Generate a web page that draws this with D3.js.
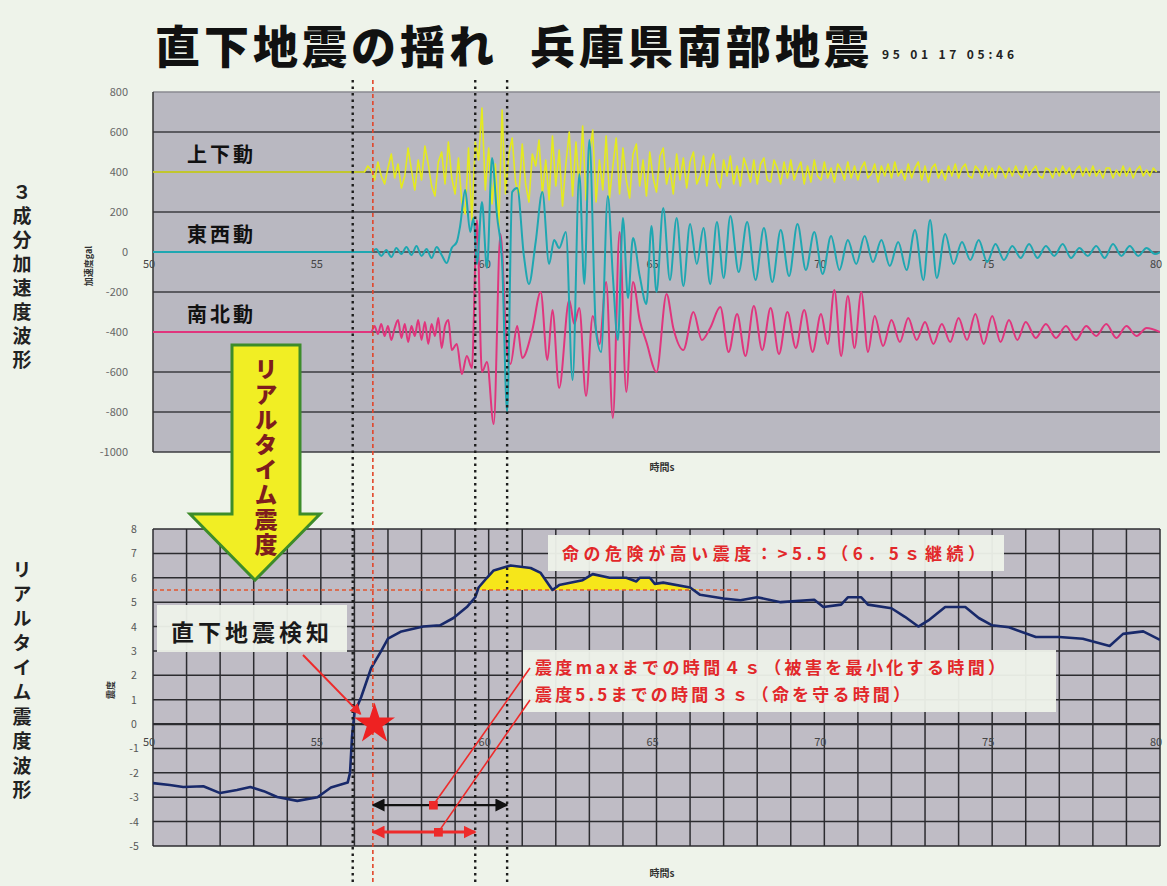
<!DOCTYPE html>
<html><head><meta charset="utf-8">
<script src="https://cdn.jsdelivr.net/npm/d3@7"></script>
<style>
html,body{margin:0;padding:0;background:#eef3ea;}
svg{display:block;}
text{font-family:"Noto Sans CJK JP","Noto Sans",sans-serif;}
</style></head><body>
<svg id="c" width="1167" height="886"></svg>
<script>
// ---------------- data ----------------
const titleText = "直下地震の揺れ";
const titleText2 = "兵庫県南部地震";
const stampText = "95 01 17 05:46";
const timeDomain = [50, 80];
const timeTicks = [50, 55, 60, 65, 70, 75, 80];
const accelTicks = [800, 600, 400, 200, 0, -200, -400, -600, -800, -1000];
const intensityTicks = [8, 7, 6, 5, 4, 3, 2, 1, 0, -1, -2, -3, -4, -5];
const componentNames = ["上下動", "東西動", "南北動"];
const componentOffsets = [400, 0, -400];

// 上下動 (vertical), gal relative to its 400 offset, sampled every 0.1 s from 56.3 s
const verticalStart = 56.3, verticalStep = 0.1;
const verticalValues = [
  0, 30, 10, -40, 50, -20, -60,
  20, 90, -30, 40, -80, -20, 120, 10, -90, 60,
  -40, 130, 40, -70, -120, 50, 100, -60, 150, -30,
  -110, 70, -150, -210, 120,
  -240, 150, 60, 320, -90,
  120, -160, 40, -280, 310,
  -110, 90, 170, -50, -120,
  140, -60, -150, 90, 30, 160, -110, 60, -140, 180,
  -70, 110, -170, 40, 200, -120, 150, -80, 230, -140,
  90, 210, -150, 60, -90, 180, -130, 30, 170, -110,
  120, -40, -130, 90, 140, -70, 60, -120, 100, -30,
  -100, 80, 120, -60, 20, -110, 90, -40, 70, -80,
  50, 100, -60, -20, 80, -70, 40, 90, -50, -80,
  60, -20, 80, -60, 30, -70, 70, 20, -50, 60,
  -60, 40, 70, -40, -50, 60, 20, -60, 50, -30,
  60, -40, 10, 50, -60, 30, -50, 60, -20, -40,
  50, -30, 20, -50, 40, 10, -40, 50, -30, 30,
  -40, 20, 50, -30, -10, 40, -50, 30, -20, 40,
  -30, 50, -20, 10, -40, 40, -30, 20, 50, -40,
  30, -50, 20, 40, -30, 10, -40, 30, -20, 40,
  -30, 20, 40, -20, -30, 30, 10, -30, 30, -20,
  20, -30, 30, 10, -30, 20, -20, 30, -10, -30,
  30, -20, 10, 30, -20, -30, 20, 10, -30, 20,
  -20, 30, -10, 20, -30, 10, 30, -20, 20, -20,
  30, -20, 10, -30, 20, 20, -30, 10, -20, 30,
  -20, 20, -30, 10, 30, -20, 10, -20, 20, 0
];

// 東西動 (east-west), turning points [time s, gal]
const eastWest = [
  [50,0],[56.5,0],[56.65,15],[56.8,-20],[56.95,10],[57.1,-25],[57.25,20],[57.4,-10],[57.55,25],[57.7,-15],
  [57.85,30],[58.0,-20],[58.15,15],[58.3,-30],[58.45,25],[58.6,-15],[58.75,-55],[58.9,20],[59.05,50],[59.15,130],
  [59.3,310],[59.45,100],[59.55,170],[59.65,-60],[59.8,250],[59.95,-80],[60.1,470],[60.25,180],[60.4,-50],[60.55,-800],
  [60.7,300],[60.85,320],[61.05,-20],[61.2,-160],[61.4,50],[61.6,300],[61.8,-60],[61.95,60],[62.1,20],[62.3,100],
  [62.5,-640],[62.7,390],[62.85,-160],[63.0,560],[63.2,-400],[63.35,-500],[63.55,280],[63.7,-120],[63.85,-440],[64.0,170],
  [64.15,-230],[64.3,70],[64.5,-120],[64.7,-260],[64.85,130],[65.0,-200],[65.2,220],[65.4,-140],[65.6,170],[65.8,-170],
  [66.0,140],[66.2,-60],[66.4,120],[66.6,-160],[66.8,150],[67.0,-130],[67.2,180],[67.45,-100],[67.7,150],[67.95,-140],
  [68.2,120],[68.45,-150],[68.7,110],[68.95,-120],[69.2,140],[69.45,-90],[69.7,100],[69.95,-110],[70.2,80],[70.45,-90],
  [70.7,60],[70.95,-60],[71.2,80],[71.45,-50],[71.7,60],[71.95,-70],[72.2,50],[72.45,-90],[72.7,110],[72.95,-140],
  [73.15,160],[73.35,-130],[73.6,90],[73.85,-60],[74.1,50],[74.35,-40],[74.6,60],[74.85,-50],[75.1,40],[75.35,-40],
  [75.6,30],[75.85,-30],[76.1,40],[76.35,-30],[76.6,30],[76.85,-20],[77.1,40],[77.35,-30],[77.6,20],[77.85,-20],
  [78.1,30],[78.35,-30],[78.6,40],[78.85,-20],[79.1,30],[79.35,-20],[79.6,20],[79.85,-10],[80,0]
];

// 南北動 (north-south), turning points [time s, gal] relative to -400 offset
const northSouth = [
  [50,0],[56.5,0],[56.6,30],[56.7,-10],[56.8,40],[56.9,-20],[57.0,30],[57.1,-40],[57.2,20],[57.3,60],
  [57.4,-30],[57.5,40],[57.6,-50],[57.7,30],[57.8,-20],[57.9,60],[58.0,-40],[58.1,50],[58.2,-60],[58.3,40],
  [58.4,-20],[58.5,70],[58.6,-80],[58.7,30],[58.8,60],[58.9,-90],[59.05,-60],[59.2,-210],[59.35,-120],[59.5,-180],
  [59.65,560],[59.8,-200],[59.95,-150],[60.15,-460],[60.35,490],[60.55,-100],[60.65,-160],[60.85,30],[61.0,-130],[61.3,10],
  [61.55,200],[61.75,-140],[61.9,110],[62.1,-280],[62.4,160],[62.55,40],[62.7,120],[62.9,-320],[63.1,80],[63.3,-60],
  [63.5,250],[63.7,-430],[63.9,500],[64.1,-300],[64.3,250],[64.5,60],[64.7,-50],[65.0,-200],[65.3,190],[65.5,20],
  [65.8,-90],[66.1,100],[66.35,-40],[66.6,20],[66.9,125],[67.15,-100],[67.4,90],[67.65,-120],[67.9,130],[68.15,-90],
  [68.4,120],[68.65,-110],[68.9,100],[69.15,-80],[69.4,110],[69.65,-100],[69.9,90],[70.1,-60],[70.3,210],[70.5,-120],
  [70.7,180],[70.9,-80],[71.1,200],[71.3,-100],[71.5,80],[71.75,-70],[72.0,60],[72.25,-50],[72.5,70],[72.75,-40],
  [73.0,50],[73.25,-60],[73.5,40],[73.75,-50],[74.0,70],[74.25,-40],[74.5,90],[74.75,-60],[75.0,80],[75.25,-50],
  [75.5,60],[75.75,-40],[76.0,50],[76.3,-30],[76.6,40],[76.9,-30],[77.2,30],[77.5,-40],[77.8,30],[78.1,-20],
  [78.4,40],[78.7,-30],[79.0,30],[79.3,-20],[79.6,20],[80,0]
];

// リアルタイム震度 [time s, intensity]
const intensity = [
  [50,-2.42],[50.5,-2.5],[50.9,-2.58],[51.5,-2.55],[52,-2.83],[52.5,-2.7],[52.9,-2.58],[53.3,-2.75],[53.7,-2.99],[54.3,-3.15],[54.9,-3.0],
  [55.3,-2.6],[55.8,-2.4],[55.87,-2.0],[55.93,-0.5],[56.0,0.45],[56.2,1.1],[56.5,2.3],[56.8,3.0],[57.0,3.5],[57.4,3.8],
  [58.05,4.0],[58.55,4.05],[58.95,4.35],[59.35,4.8],[59.6,5.2],[59.7,5.6],[59.95,6.0],[60.15,6.3],[60.65,6.5],[61.25,6.4],
  [61.55,6.2],[61.9,5.5],[62.1,5.7],[62.8,5.9],[63.1,6.15],[63.6,6.0],[64.1,6.0],[64.4,5.85],[64.5,6.0],[64.8,6.0],[64.95,5.75],
  [65.2,5.8],[66.0,5.6],[66.3,5.3],[67.0,5.15],[67.5,5.08],[68.0,5.2],[68.7,5.0],[69.7,5.1],[69.97,4.8],[70.5,4.9],
  [70.7,5.2],[71.1,5.2],[71.3,4.9],[72.0,4.75],[72.4,4.4],[72.8,4.0],[73.1,4.25],[73.6,4.8],[74.2,4.8],[74.6,4.35],
  [75.0,4.05],[75.5,3.97],[76.3,3.57],[77.0,3.57],[77.7,3.5],[78.5,3.2],[78.9,3.7],[79.5,3.8],[80,3.45]
];
const dangerLevel = 5.5;
const dangerLineEnd = 67.5;
const markerTimes = [55.95, 56.55, 59.6, 60.55];   // dotted, red, dotted, dotted
const detectPoint = [56.6, 0];
const maxSpan = [56.55, 60.55, -3.32];
const span55 = [56.55, 59.6, -4.43];

const leftLabel1 = "３成分加速度波形";
const leftLabel2 = "リアルタイム震度波形";
const arrowLabel = "リアルタイム震度";
const detectLabel = "直下地震検知";
const dangerLabel = "命の危険が高い震度：>5.5（6．5ｓ継続）";
const noteLines = ["震度maxまでの時間４ｓ（被害を最小化する時間）", "震度5.5までの時間３ｓ（命を守る時間）"];

// ---------------- drawing ----------------
const svg = d3.select("#c");
const x = d3.scaleLinear().domain(timeDomain).range([153, 1160]);
const yA = d3.scaleLinear().domain([-1000, 800]).range([452, 92]);
const yB = d3.scaleLinear().domain([-5, 8]).range([846, 529]);

const defs = svg.append("defs");
defs.append("clipPath").attr("id","clipA").append("rect")
  .attr("x",x(50)).attr("y",yA(800)).attr("width",x(80)-x(50)).attr("height",yA(-1000)-yA(800));
defs.append("clipPath").attr("id","clipB").append("rect")
  .attr("x",x(50)).attr("y",yB(8)).attr("width",x(80)-x(50)).attr("height",yB(-5)-yB(8));
function mk(id, color, size){
  const m = defs.append("marker").attr("id",id).attr("viewBox","0 0 10 10").attr("refX",9).attr("refY",5)
    .attr("markerWidth",size).attr("markerHeight",size).attr("orient","auto-start-reverse").attr("markerUnits","userSpaceOnUse");
  m.append("path").attr("d","M0,0 L10,5 L0,10 z").attr("fill",color);
}
mk("ahK","#111",13); mk("ahR","#ee2a2a",13); mk("ahR2","#ee2a2a",11);
const sq = defs.append("marker").attr("id","sqR").attr("viewBox","0 0 10 10").attr("refX",5).attr("refY",5)
  .attr("markerWidth",9).attr("markerHeight",9).attr("markerUnits","userSpaceOnUse");
sq.append("rect").attr("width",10).attr("height",10).attr("fill","#ee2a2a");

// title
svg.append("text").attr("x",155).attr("y",64).attr("font-size",45).attr("font-weight",900)
  .attr("letter-spacing",4).attr("fill","#111")
  .call(t=>{ t.append("tspan").text(titleText); t.append("tspan").attr("x",530).text(titleText2); });
svg.append("text").attr("x",882).attr("y",59).attr("font-size",12).attr("font-weight",700)
  .attr("font-family","Liberation Sans, Arial, sans-serif").attr("fill","#222")
  .attr("textLength",132).attr("lengthAdjust","spacing").text(stampText);

// left vertical labels
function vtext(label, xx, yy, size, spacing, color, weight){
  svg.append("text").attr("x",xx).attr("y",yy).attr("font-size",size).attr("font-weight",weight)
    .attr("fill",color).attr("letter-spacing",spacing)
    .style("writing-mode","vertical-rl").style("text-orientation","upright").text(label);
}
vtext(leftLabel1, 22, 182, 19, 5, "#222", 700);
vtext(leftLabel2, 22, 560, 19, 5.5, "#222", 700);

// ---- top chart ----
const gA = svg.append("g");
gA.append("rect").attr("x",x(50)).attr("y",yA(800)).attr("width",x(80)-x(50)).attr("height",yA(-1000)-yA(800))
  .attr("fill","#b9b8c1");
gA.selectAll("line.h").data(accelTicks).join("line").attr("class","h")
  .attr("x1",x(50)).attr("x2",x(80)).attr("y1",d=>yA(d)).attr("y2",d=>yA(d))
  .attr("stroke",d=>d===800?"#8a8a90":"#3c3c40").attr("stroke-width",1.4);
gA.append("line").attr("x1",x(50)).attr("x2",x(50)).attr("y1",yA(800)).attr("y2",yA(-1000))
  .attr("stroke","#333").attr("stroke-width",1.5);
gA.selectAll("text.yt").data(accelTicks).join("text").attr("class","yt")
  .attr("x",128).attr("y",d=>yA(d)+4).attr("text-anchor","end").attr("font-size",11)
  .attr("font-family","Liberation Sans, Arial, sans-serif").attr("fill","#666").text(d=>d);
gA.selectAll("text.xt").data(timeTicks).join("text").attr("class","xt")
  .attr("x",d=>x(d)-4).attr("y",yA(0)+16).attr("text-anchor","middle").attr("font-size",11)
  .attr("font-family","Liberation Sans, Arial, sans-serif").attr("fill","#444").text(d=>d);
svg.append("text").attr("x",662).attr("y",471).attr("text-anchor","middle").attr("font-size",10)
  .attr("font-weight",700).attr("fill","#333").text("時間s");
svg.append("text").attr("transform","translate(92,266) rotate(-90)").attr("text-anchor","middle")
  .attr("font-size",9).attr("font-weight",700).attr("fill","#333").text("加速度gal");

const vertical = [[50,0]].concat(verticalValues.map((v,i)=>[verticalStart+i*verticalStep, v]));
const series = [vertical, eastWest, northSouth];
const colors = ["#e4ea1e", "#1fa7b1", "#e0357d"];
const curves = [d3.curveLinear, d3.curveMonotoneX, d3.curveMonotoneX];
const widths = [1.6, 2, 2];
const traces = gA.append("g").attr("clip-path","url(#clipA)");
[0,2,1].forEach(i=>{
  const ln = d3.line().curve(curves[i]).x(d=>x(d[0])).y(d=>yA(d[1]+componentOffsets[i]));
  traces.append("path").datum(series[i]).attr("d",ln)
    .attr("fill","none").attr("stroke",colors[i]).attr("stroke-width",widths[i]).attr("stroke-linejoin","round");
});
componentNames.forEach((n,i)=>{
  gA.append("text").attr("x",187).attr("y",yA(componentOffsets[i])-10).attr("font-size",20)
    .attr("font-weight",700).attr("letter-spacing",3).attr("fill","#111").text(n);
});

// ---- bottom chart ----
const gB = svg.append("g");
gB.append("rect").attr("x",x(50)).attr("y",yB(8)).attr("width",x(80)-x(50)).attr("height",yB(-5)-yB(8))
  .attr("fill","#bfbcc5");
gB.selectAll("line.v").data(d3.range(50,81)).join("line").attr("class","v")
  .attr("x1",d=>x(d)).attr("x2",d=>x(d)).attr("y1",yB(8)).attr("y2",yB(-5))
  .attr("stroke","#2c2c30").attr("stroke-width",1.5);
gB.selectAll("line.h").data(intensityTicks).join("line").attr("class","h")
  .attr("x1",x(50)).attr("x2",x(80)).attr("y1",d=>yB(d)).attr("y2",d=>yB(d))
  .attr("stroke","#2c2c30").attr("stroke-width",d=>d===0?2.2:1.5);
gB.selectAll("text.yt").data(intensityTicks).join("text").attr("class","yt")
  .attr("x",134).attr("y",d=>yB(d)+4).attr("text-anchor","middle").attr("font-size",10.5)
  .attr("font-family","Liberation Sans, Arial, sans-serif").attr("fill","#555").text(d=>d);
gB.selectAll("text.xt").data(timeTicks).join("text").attr("class","xt")
  .attr("x",d=>x(d)-4).attr("y",yB(0)+22).attr("text-anchor","middle").attr("font-size",11)
  .attr("font-family","Liberation Sans, Arial, sans-serif").attr("fill","#444").text(d=>d);
svg.append("text").attr("x",662).attr("y",877).attr("text-anchor","middle").attr("font-size",10)
  .attr("font-weight",700).attr("fill","#333").text("時間s");
svg.append("text").attr("transform","translate(114,690) rotate(-90)").attr("text-anchor","middle")
  .attr("font-size",9).attr("font-weight",700).attr("fill","#333").text("震度");

const plotB = gB.append("g").attr("clip-path","url(#clipB)");
plotB.append("path").datum(intensity)
  .attr("d", d3.area().x(d=>x(d[0])).y0(yB(dangerLevel)).y1(d=>yB(Math.max(d[1],dangerLevel))))
  .attr("fill","#f6e61a");
plotB.append("line").attr("x1",x(50)).attr("x2",x(dangerLineEnd)).attr("y1",yB(dangerLevel)).attr("y2",yB(dangerLevel))
  .attr("stroke","#e2552f").attr("stroke-width",1.6).attr("stroke-dasharray","4,3");
plotB.append("path").datum(intensity).attr("d", d3.line().x(d=>x(d[0])).y(d=>yB(d[1])))
  .attr("fill","none").attr("stroke","#18296a").attr("stroke-width",2.6).attr("stroke-linejoin","round");

// ---- vertical marker lines ----
markerTimes.forEach((t,i)=>{
  const red = i===1;
  svg.append("line").attr("x1",x(t)).attr("x2",x(t)).attr("y1",80).attr("y2",882)
    .attr("stroke",red?"#e2452a":"#1c1c1c").attr("stroke-width",red?1.6:2.4)
    .attr("stroke-dasharray",red?"4,3":"2.5,4");
});

// ---- big arrow ----
const arrowPts = [[232,345],[300,345],[300,514],[320,514],[255,580],[190,514],[232,514]];
svg.append("polygon").attr("points",arrowPts.map(p=>p.join(",")).join(" "))
  .attr("fill","#f1ee24").attr("stroke","#3d8c2a").attr("stroke-width",3).attr("stroke-linejoin","miter");
vtext(arrowLabel, 266, 358, 23, 2, "#7e1d1d", 900);

// ---- annotations ----
function box(x0,y0,w,h){
  svg.append("rect").attr("x",x0).attr("y",y0).attr("width",w).attr("height",h).attr("fill","#eef2ea").attr("opacity",0.95);
}
box(157,605,190,47);
svg.append("text").attr("x",252).attr("y",641).attr("text-anchor","middle").attr("font-size",23)
  .attr("font-weight",700).attr("letter-spacing",4).attr("fill","#1a1a1a").text(detectLabel);
box(548,535,456,36);
svg.append("text").attr("x",562).attr("y",560).attr("font-size",17).attr("font-weight",700)
  .attr("fill","#e2282a").attr("textLength",423).attr("lengthAdjust","spacing").text(dangerLabel);
box(523,650,533,62);
svg.append("text").attr("x",535).attr("y",674).attr("font-size",17).attr("font-weight",700)
  .attr("fill","#e2282a").attr("textLength",470).attr("lengthAdjust","spacing").text(noteLines[0]);
svg.append("text").attr("x",535).attr("y",701).attr("font-size",17).attr("font-weight",700)
  .attr("fill","#e2282a").attr("textLength",375).attr("lengthAdjust","spacing").text(noteLines[1]);

// detect arrow & star
svg.append("line").attr("x1",303).attr("y1",655).attr("x2",x(detectPoint[0])-14).attr("y2",yB(detectPoint[1])-10)
  .attr("stroke","#ee2a2a").attr("stroke-width",2).attr("marker-end","url(#ahR2)");
const star = d3.symbol().type(d3.symbolStar).size(520);
svg.append("path").attr("d",star()).attr("transform",`translate(${x(detectPoint[0])},${yB(detectPoint[1])})`)
  .attr("fill","#ee2222");

// span arrows
svg.append("line").attr("x1",x(maxSpan[0])).attr("x2",x(maxSpan[1])).attr("y1",yB(maxSpan[2])).attr("y2",yB(maxSpan[2]))
  .attr("stroke","#111").attr("stroke-width",2.2).attr("marker-start","url(#ahK)").attr("marker-end","url(#ahK)");
svg.append("line").attr("x1",x(span55[0])).attr("x2",x(span55[1])).attr("y1",yB(span55[2])).attr("y2",yB(span55[2]))
  .attr("stroke","#ee2a2a").attr("stroke-width",3).attr("marker-start","url(#ahR)").attr("marker-end","url(#ahR)");
// leader lines from note box
svg.append("line").attr("x1",530).attr("y1",668).attr("x2",x(58.35)).attr("y2",yB(maxSpan[2]))
  .attr("stroke","#ee2a2a").attr("stroke-width",1.6).attr("marker-end","url(#sqR)");
svg.append("line").attr("x1",530).attr("y1",700).attr("x2",x(58.5)).attr("y2",yB(span55[2]))
  .attr("stroke","#ee2a2a").attr("stroke-width",1.6).attr("marker-end","url(#sqR)");
</script>
</body></html>
